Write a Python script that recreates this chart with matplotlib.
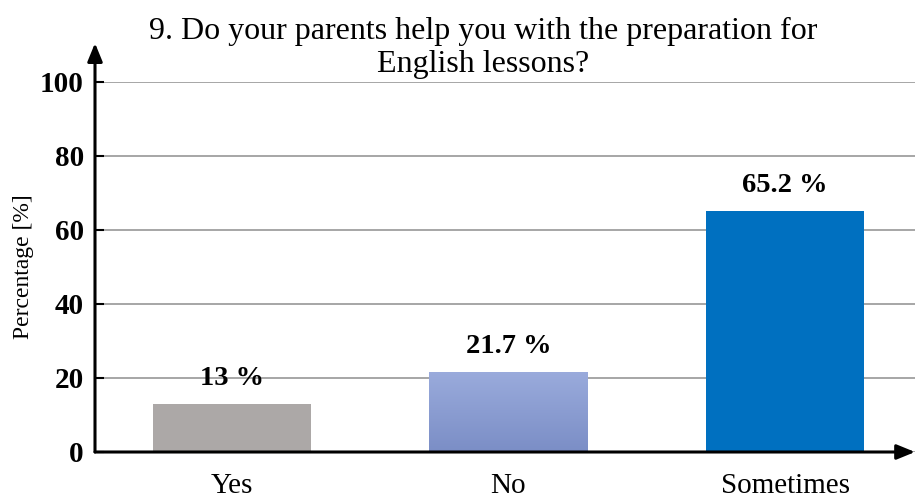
import numpy as np
import matplotlib.pyplot as plt
from matplotlib.colors import LinearSegmentedColormap

categories = ["Yes", "No", "Sometimes"]
values = [13, 21.7, 65.2]
value_labels = ["13 %", "21.7 %", "65.2 %"]
yticks = [0, 20, 40, 60, 80, 100]

plt.rcParams['font.family'] = ['Liberation Serif', 'DejaVu Serif']

fig = plt.figure(figsize=(9.19, 5), dpi=100)
ax = fig.add_axes([95/919, 48/500, 820/919, 370/500])

x = np.arange(len(categories))
bars = ax.bar(x, values, width=0.574, color=["#aca8a7", "#8b9dd3", "#0070c0"], zorder=3)

# gradient fill on the "No" bar
grad = LinearSegmentedColormap.from_list("g", ["#7b8ec6", "#9aabdc"])
b = bars[1]
im = ax.imshow(np.linspace(0, 1, 100).reshape(-1, 1), cmap=grad, aspect='auto', origin='lower',
               extent=[b.get_x(), b.get_x() + b.get_width(), 0, b.get_height()], zorder=3)
im.set_clip_path(b)

for xi, v, lab in zip(x, values, value_labels):
    ax.annotate(lab, (xi, v), xytext=(0, 18), textcoords='offset points',
                ha='center', va='center', fontsize=20.5, fontweight='bold', zorder=4)

ax.set_xlim(-0.495, 2.47)
ax.set_ylim(0, 100)
ax.set_xticks(x)
ax.set_xticklabels(categories, fontsize=21)
ax.set_yticks(yticks)
ax.set_yticklabels([str(t) for t in yticks], fontsize=21, fontweight='bold')
ax.tick_params(axis='x', length=0, pad=15)
ax.tick_params(axis='y', direction='in', length=6.5, width=1.5, pad=8)
ax.grid(axis='y', color='#a6a6a6', linewidth=1.4, zorder=0)
ax.set_axisbelow(True)

for s in ax.spines.values():
    s.set_visible(False)

# axes with arrow heads
ax.annotate("", xy=(0, 1.105), xytext=(0, 0), xycoords='axes fraction',
            arrowprops=dict(arrowstyle='-|>,head_length=1.1,head_width=0.45', color='black', lw=2.2, shrinkA=0, shrinkB=0),
            annotation_clip=False, zorder=5)
ax.annotate("", xy=(1.0, 0), xytext=(0, 0), xycoords='axes fraction',
            arrowprops=dict(arrowstyle='-|>,head_length=1.1,head_width=0.45', color='black', lw=2.2, shrinkA=0, shrinkB=0),
            annotation_clip=False, zorder=5)

ax.set_ylabel("Percentage [%]", fontsize=17, labelpad=4)
fig.text(483/919, 1 - 48/500, "9. Do your parents help you with the preparation for\nEnglish lessons?",
         ha='center', va='center', fontsize=23, linespacing=1.2)

fig.savefig("out.png", dpi=100)
